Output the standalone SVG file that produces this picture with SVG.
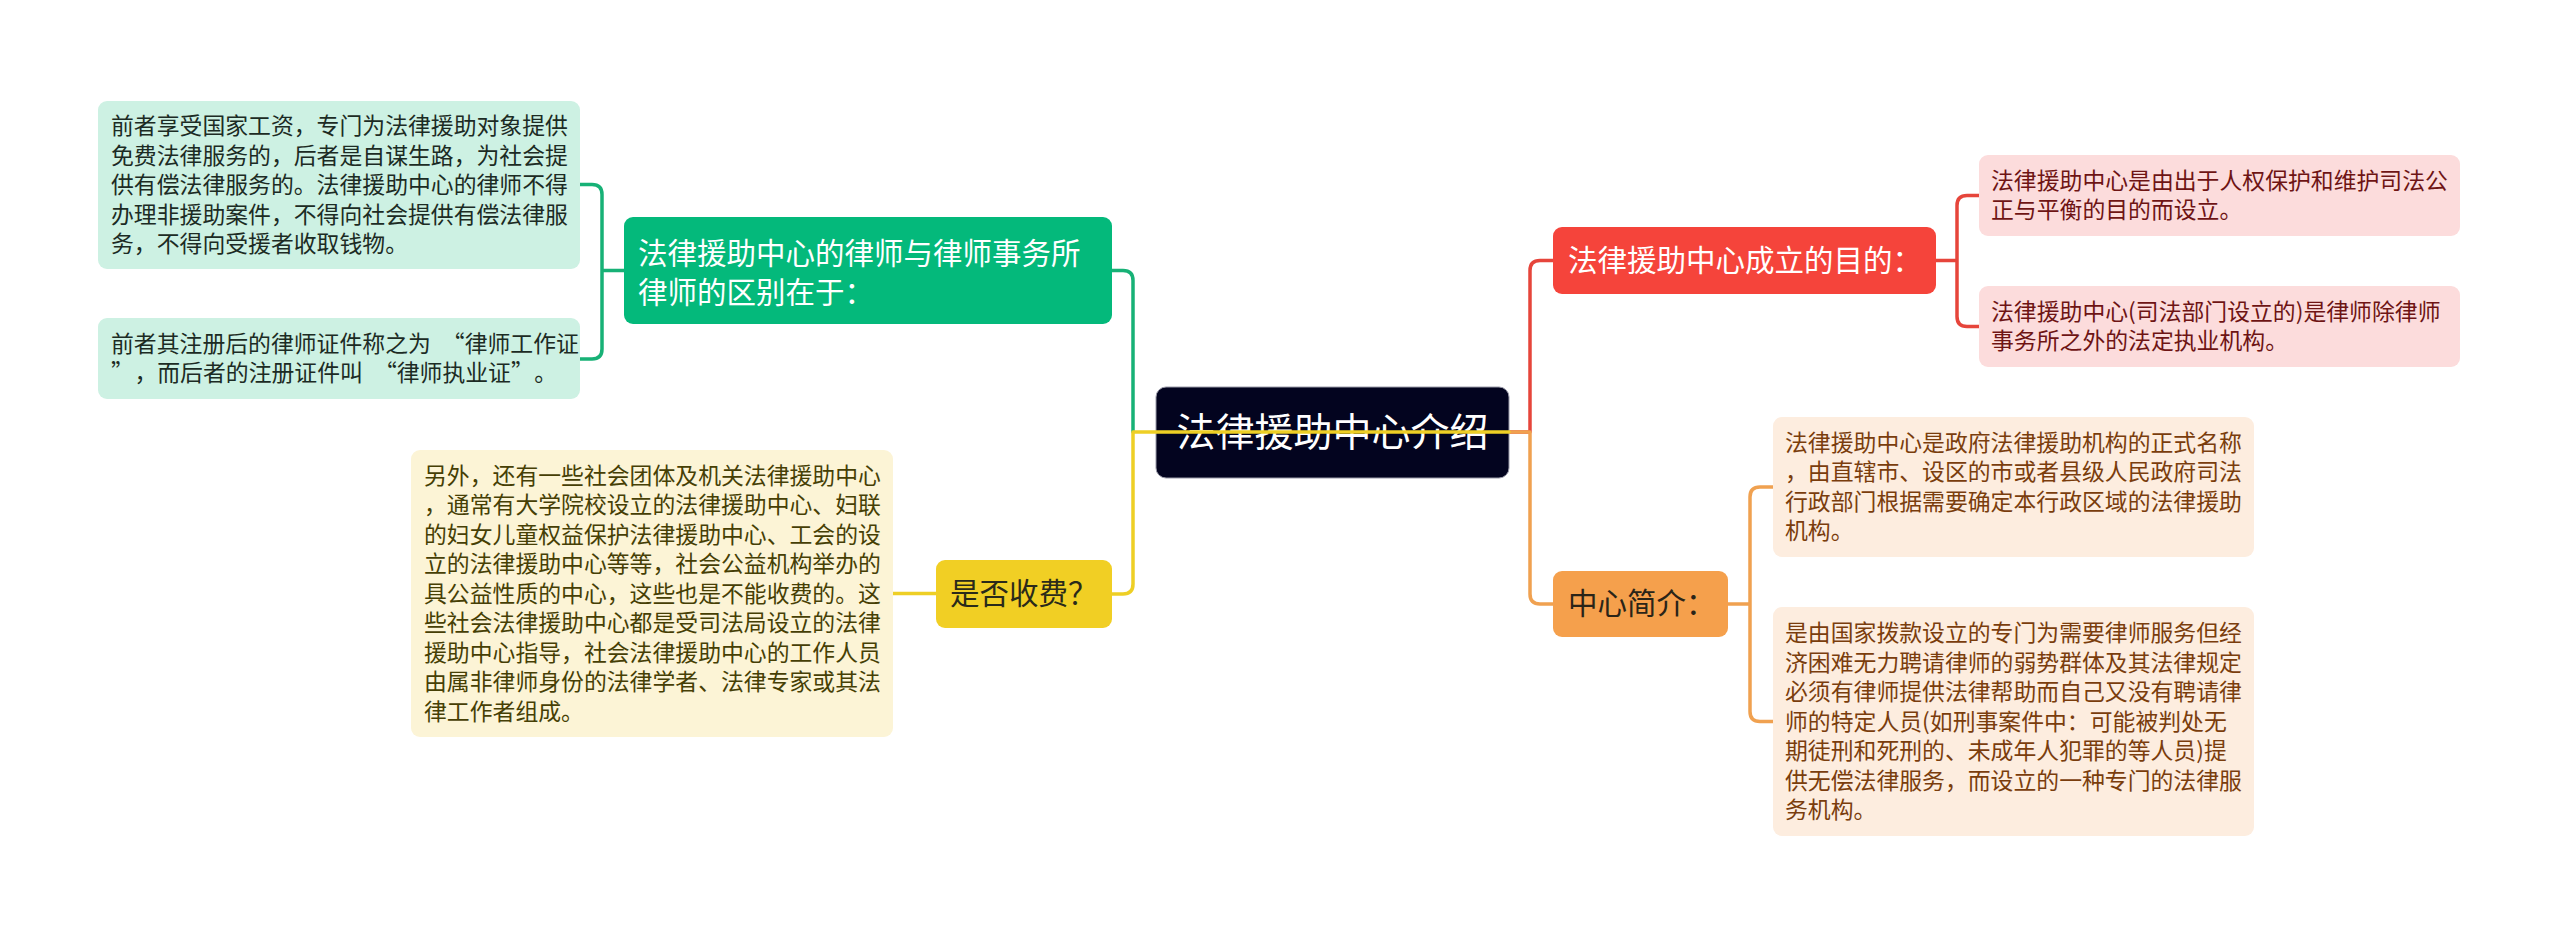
<svg xmlns="http://www.w3.org/2000/svg" width="2560" height="935" viewBox="0 0 2560 935">
<style>
text{font-family:"Noto Sans CJK SC","Noto Sans",sans-serif;}
.leaf{font-size:22.85px;}
.main{font-size:29.5px;}
.center{font-size:39px;fill:#ffffff;}
.conn{fill:none;stroke-width:3.5;stroke-linecap:round;stroke-linejoin:round;}
.g{stroke:#17b176;}
.y{stroke:#eecf25;}
.r{stroke:#e6453b;}
.o{stroke:#f0a150;}
</style>
<rect width="2560" height="935" fill="#ffffff"/>
<g id="connectors">
  <path class="conn g" d="M1112,270.5 H1123 Q1133,270.5 1133,280.5 V432"/>
  <path class="conn g" d="M624,270.5 H602 M580,184.5 H592 Q602,184.5 602,194.5 V349 Q602,359 592,359 H580"/>
  <path class="conn r" d="M1509,432 H1530 V270.5 Q1530,260.5 1540,260.5 H1553"/>
  <path class="conn r" d="M1936,260.5 H1957 M1979,195.5 H1967 Q1957,195.5 1957,205.5 V316.5 Q1957,326.5 1967,326.5 H1979"/>
  <path class="conn o" d="M1509,432 H1530 V594 Q1530,604 1540,604 H1553"/>
  <path class="conn o" d="M1728,604 H1750 M1773,487 H1760 Q1750,487 1750,497 V711.5 Q1750,721.5 1760,721.5 H1773"/>
  <path class="conn y" d="M936,593.5 H893"/>
</g>
<g id="center">
  <rect x="1156" y="387" width="353" height="91" rx="10" fill="#03041f" stroke="#9a9aa8" stroke-width="1"/>
  <text class="center" x="1332.5" y="446" text-anchor="middle">法律援助中心介绍</text>
</g>
<g id="connector-trunk-yellow">
  <path class="conn y" d="M1112,594 H1123 Q1133,594 1133,584 V432 H1509"/>
</g>
<g id="n-green">
  <rect x="624" y="217" width="488" height="107" rx="9" fill="#04b97b"/>
  <text class="main" fill="#ffffff"><tspan x="638" y="264">法律援助中心的律师与律师事务所</tspan><tspan x="638" y="302.5">律师的区别在于：</tspan></text>
</g>
<g id="n-green-leaf1">
  <rect x="98" y="101" width="482" height="168" rx="9" fill="#cdf1e3"/>
  <text class="leaf" fill="#1c2b24"><tspan x="111" y="134">前者享受国家工资，专门为法律援助对象提供</tspan><tspan x="111" y="163.5">免费法律服务的，后者是自谋生路，为社会提</tspan><tspan x="111" y="193">供有偿法律服务的。法律援助中心的律师不得</tspan><tspan x="111" y="222.5">办理非援助案件，不得向社会提供有偿法律服</tspan><tspan x="111" y="252">务，不得向受援者收取钱物。</tspan></text>
</g>
<g id="n-green-leaf2">
  <rect x="98" y="318" width="482" height="81" rx="9" fill="#cdf1e3"/>
  <text class="leaf" fill="#1c2b24" x="111" y="351.5">前者其注册后的律师证件称之为<tspan dx="11">“律师工作证</tspan></text>
  <text class="leaf" fill="#1c2b24" x="111" y="381">”<tspan dx="12">，而后者的注册证件叫</tspan><tspan dx="11">“律师执业证”</tspan><tspan dx="12">。</tspan></text>
</g>
<g id="n-yellow">
  <rect x="936" y="560" width="176" height="68" rx="9" fill="#f1cf24"/>
  <text class="main" fill="#2a2a1a" x="950" y="604">是否收费？</text>
</g>
<g id="n-yellow-leaf">
  <rect x="411" y="450" width="482" height="287" rx="9" fill="#fcf4d6"/>
  <text class="leaf" fill="#463f05"><tspan x="424" y="483.5">另外，还有一些社会团体及机关法律援助中心</tspan><tspan x="424" y="513">，通常有大学院校设立的法律援助中心、妇联</tspan><tspan x="424" y="542.5">的妇女儿童权益保护法律援助中心、工会的设</tspan><tspan x="424" y="572">立的法律援助中心等等，社会公益机构举办的</tspan><tspan x="424" y="601.5">具公益性质的中心，这些也是不能收费的。这</tspan><tspan x="424" y="631">些社会法律援助中心都是受司法局设立的法律</tspan><tspan x="424" y="660.5">援助中心指导，社会法律援助中心的工作人员</tspan><tspan x="424" y="690">由属非律师身份的法律学者、法律专家或其法</tspan><tspan x="424" y="719.5">律工作者组成。</tspan></text>
</g>
<g id="n-red">
  <rect x="1553" y="227" width="383" height="67" rx="9" fill="#f5443b"/>
  <text class="main" fill="#ffffff" x="1568" y="271">法律援助中心成立的目的：</text>
</g>
<g id="n-red-leaf1">
  <rect x="1979" y="155" width="481" height="81" rx="9" fill="#fcdcdc"/>
  <text class="leaf" fill="#6e1414"><tspan x="1991" y="188.5">法律援助中心是由出于人权保护和维护司法公</tspan><tspan x="1991" y="218">正与平衡的目的而设立。</tspan></text>
</g>
<g id="n-red-leaf2">
  <rect x="1979" y="286" width="481" height="81" rx="9" fill="#fcdcdc"/>
  <text class="leaf" fill="#6e1414"><tspan x="1991" y="319.5">法律援助中心(司法部门设立的)是律师除律师</tspan><tspan x="1991" y="349">事务所之外的法定执业机构。</tspan></text>
</g>
<g id="n-orange">
  <rect x="1553" y="571" width="175" height="66" rx="9" fill="#f5a04c"/>
  <text class="main" fill="#2a2418" x="1568" y="614">中心简介：</text>
</g>
<g id="n-orange-leaf1">
  <rect x="1773" y="417" width="481" height="140" rx="9" fill="#fdeddf"/>
  <text class="leaf" fill="#7a3d0d"><tspan x="1785" y="450.75">法律援助中心是政府法律援助机构的正式名称</tspan><tspan x="1785" y="480.25">，由直辖市、设区的市或者县级人民政府司法</tspan><tspan x="1785" y="509.75">行政部门根据需要确定本行政区域的法律援助</tspan><tspan x="1785" y="539.25">机构。</tspan></text>
</g>
<g id="n-orange-leaf2">
  <rect x="1773" y="607" width="481" height="229" rx="9" fill="#fdeddf"/>
  <text class="leaf" fill="#7a3d0d"><tspan x="1785" y="641">是由国家拨款设立的专门为需要律师服务但经</tspan><tspan x="1785" y="670.5">济困难无力聘请律师的弱势群体及其法律规定</tspan><tspan x="1785" y="700">必须有律师提供法律帮助而自己又没有聘请律</tspan><tspan x="1785" y="729.5">师的特定人员(如刑事案件中：可能被判处无</tspan><tspan x="1785" y="759">期徒刑和死刑的、未成年人犯罪的等人员)提</tspan><tspan x="1785" y="788.5">供无偿法律服务，而设立的一种专门的法律服</tspan><tspan x="1785" y="818">务机构。</tspan></text>
</g>
</svg>
